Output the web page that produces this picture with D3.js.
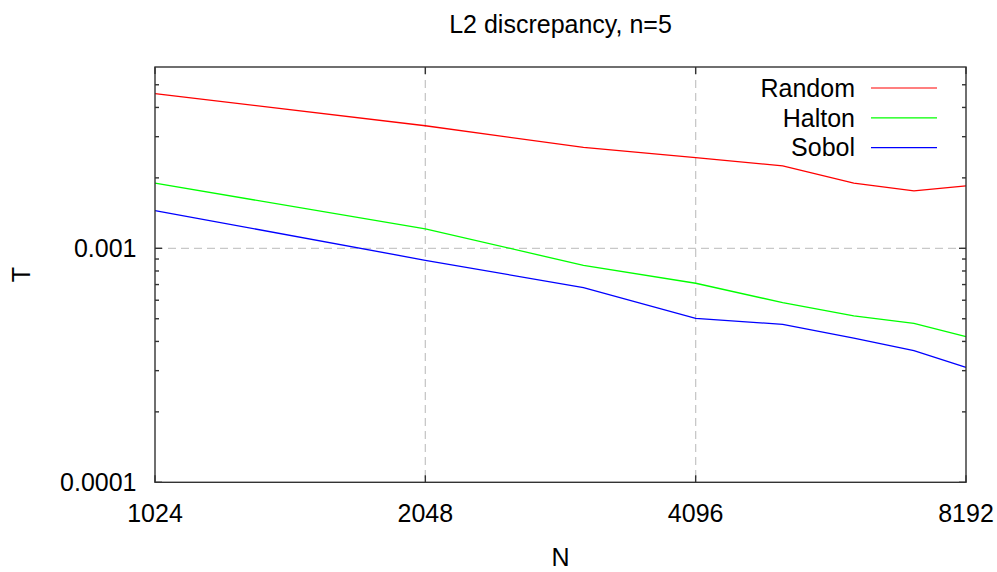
<!DOCTYPE html>
<html>
<head>
<meta charset="utf-8">
<script src="https://cdn.jsdelivr.net/npm/d3@7"></script>
<style>
  html, body { margin: 0; padding: 0; background: #fff; }
  svg { display: block; font-family: "Liberation Sans", Arial, Helvetica, sans-serif; }
</style>
</head>
<body>
<svg id="chart" width="997" height="572"></svg>
<script>
// Sample counts (N) and L2 discrepancy values per sequence, dimension n = 5
const sampleSizes = [1024, 2048, 3072, 4096, 5120, 6144, 7168, 8192];
const randomValues = [0.00458, 0.00334, 0.00270, 0.00244, 0.00225, 0.00190, 0.00176, 0.00185];
const haltonValues = [0.00190, 0.00121, 0.000846, 0.000709, 0.000586, 0.000514, 0.000478, 0.000419];
const sobolValues  = [0.00145, 0.000889, 0.000679, 0.000502, 0.000473, 0.000413, 0.000365, 0.000310];

const seriesNames  = ["Random", "Halton", "Sobol"];
const seriesColors = ["#ff0000", "#00ff00", "#0000ff"];

const xTickValues = [1024, 2048, 4096, 8192];
const yMajorTicks = [0.0001, 0.001];
const yTickLabels = ["0.0001", "0.001"];
const yMinorTicks = [0.0002, 0.0003, 0.0004, 0.0005, 0.0006, 0.0007, 0.0008, 0.0009,
                     0.002, 0.003, 0.004, 0.005];

const titleText = "L2 discrepancy, n=5";
const xLabel = "N";
const yLabel = "T";

const series = seriesNames.map((name, i) => ({
  name,
  color: seriesColors[i],
  values: [randomValues, haltonValues, sobolValues][i]
}));

const svg = d3.select("#chart");
const plotLeft = 155, plotRight = 966, plotTop = 67, plotBottom = 482.3;

const x = d3.scaleLog().base(2).domain([1024, 8192]).range([plotLeft, plotRight]);
const y = d3.scaleLog().domain([0.0001, 0.005955]).range([plotBottom, plotTop]);

const fontSize = 25;

// grid lines at major ticks (interior only)
const grid = svg.append("g")
  .attr("stroke", "#c8c8c8")
  .attr("stroke-width", 1.3)
  .attr("stroke-dasharray", "8,5");
grid.selectAll("line.gx")
  .data(xTickValues.filter(v => v > 1024 && v < 8192))
  .join("line")
  .attr("class", "gx")
  .attr("x1", d => x(d)).attr("x2", d => x(d))
  .attr("y1", plotTop).attr("y2", plotBottom);
grid.selectAll("line.gy")
  .data(yMajorTicks.filter(v => v > 0.0001))
  .join("line")
  .attr("class", "gy")
  .attr("x1", plotLeft).attr("x2", plotRight)
  .attr("y1", d => y(d)).attr("y2", d => y(d));

// data lines
const line = d3.line()
  .x((d, i) => x(sampleSizes[i]))
  .y(d => y(d));

svg.append("g")
  .selectAll("path")
  .data(series)
  .join("path")
  .attr("fill", "none")
  .attr("stroke", d => d.color)
  .attr("stroke-width", 1.3)
  .attr("d", d => line(d.values));

// frame
svg.append("rect")
  .attr("x", plotLeft).attr("y", plotTop)
  .attr("width", plotRight - plotLeft).attr("height", plotBottom - plotTop)
  .attr("fill", "none")
  .attr("stroke", "#333")
  .attr("stroke-width", 1.4);

// ticks on all four sides, pointing inward
const ticks = svg.append("g").attr("stroke", "#333").attr("stroke-width", 1.4);
const majorLen = 7, minorLen = 4;
yMajorTicks.forEach(v => {
  ticks.append("line").attr("x1", plotLeft).attr("x2", plotLeft + majorLen).attr("y1", y(v)).attr("y2", y(v));
  ticks.append("line").attr("x1", plotRight).attr("x2", plotRight - majorLen).attr("y1", y(v)).attr("y2", y(v));
});
yMinorTicks.forEach(v => {
  ticks.append("line").attr("x1", plotLeft).attr("x2", plotLeft + minorLen).attr("y1", y(v)).attr("y2", y(v));
  ticks.append("line").attr("x1", plotRight).attr("x2", plotRight - minorLen).attr("y1", y(v)).attr("y2", y(v));
});
xTickValues.forEach(v => {
  ticks.append("line").attr("x1", x(v)).attr("x2", x(v)).attr("y1", plotBottom).attr("y2", plotBottom - majorLen);
  ticks.append("line").attr("x1", x(v)).attr("x2", x(v)).attr("y1", plotTop).attr("y2", plotTop + majorLen);
});

// tick labels
svg.append("g")
  .selectAll("text")
  .data(xTickValues)
  .join("text")
  .attr("x", d => x(d))
  .attr("y", 521.5)
  .attr("text-anchor", "middle")
  .attr("font-size", fontSize)
  .attr("fill", "#000")
  .text(d => String(d));

svg.append("g")
  .selectAll("text")
  .data(yMajorTicks)
  .join("text")
  .attr("x", 136.5)
  .attr("y", d => y(d) + 9)
  .attr("text-anchor", "end")
  .attr("font-size", fontSize)
  .attr("fill", "#000")
  .text((d, i) => yTickLabels[i]);

// title and axis labels
svg.append("text")
  .attr("x", (plotLeft + plotRight) / 2)
  .attr("y", 33)
  .attr("text-anchor", "middle")
  .attr("font-size", fontSize)
  .text(titleText);

svg.append("text")
  .attr("x", (plotLeft + plotRight) / 2)
  .attr("y", 566)
  .attr("text-anchor", "middle")
  .attr("font-size", fontSize)
  .text(xLabel);

svg.append("text")
  .attr("transform", `translate(30, ${(plotTop + plotBottom) / 2}) rotate(-90)`)
  .attr("text-anchor", "middle")
  .attr("font-size", fontSize)
  .text(yLabel);

// legend
const legend = svg.append("g");
series.forEach((s, i) => {
  const baseY = 96.7 + i * 29.8;
  legend.append("text")
    .attr("x", 855)
    .attr("y", baseY)
    .attr("text-anchor", "end")
    .attr("font-size", fontSize)
    .text(s.name);
  legend.append("line")
    .attr("x1", 871).attr("x2", 937)
    .attr("y1", baseY - 8.7).attr("y2", baseY - 8.7)
    .attr("stroke", s.color)
    .attr("stroke-width", 1.2);
});
</script>
</body>
</html>
